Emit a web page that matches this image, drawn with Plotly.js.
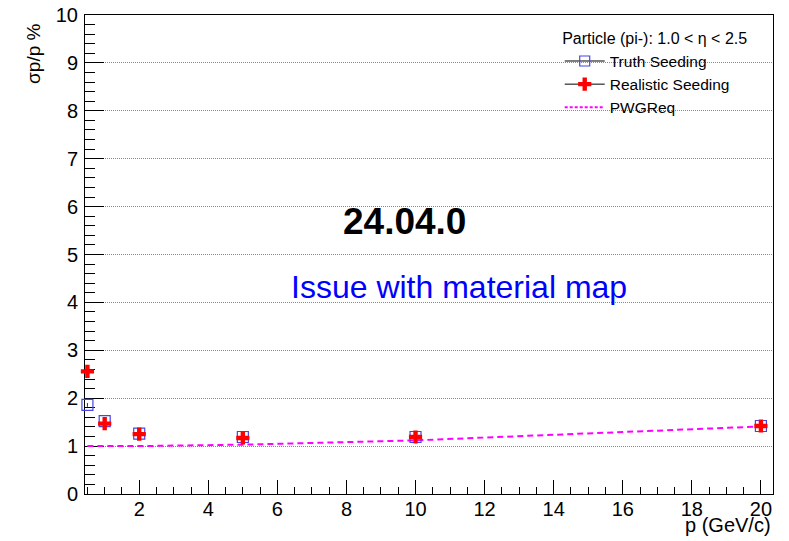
<!DOCTYPE html>
<html>
<head>
<meta charset="utf-8">
<script src="https://cdn.plot.ly/plotly-3.0.1.min.js"></script>
<style>
  html, body { margin: 0; padding: 0; background: #fff; }
  #chart { width: 789px; height: 541px; }
</style>
</head>
<body>
<div id="chart"></div>
<script>
// Momentum points (GeV/c)
const momentum = [0.5, 1, 2, 5, 10, 20];

// Relative momentum resolution sigma_p/p in percent
const truthSeeding = [1.86, 1.52, 1.26, 1.19, 1.19, 1.42];
const truthErr = [0.04, 0.03, 0.02, 0.02, 0.02, 0.02];
const realisticSeeding = [2.56, 1.47, 1.25, 1.17, 1.19, 1.42];
const realisticErr = [0.04, 0.03, 0.02, 0.02, 0.02, 0.02];

// Physics working group requirement
const pwgReq = [1.0, 1.0, 1.0, 1.03, 1.12, 1.41];

const FONT = 'Liberation Sans, Arial, Helvetica, sans-serif';

const traces = [
  {
    x: momentum, y: pwgReq, type: 'scatter', mode: 'lines',
    line: { color: '#ff00ff', width: 2, dash: '6px,4px' },
    showlegend: false, hoverinfo: 'skip'
  },
  {
    x: momentum, y: truthSeeding, type: 'scatter', mode: 'markers', cliponaxis: false,
    marker: { symbol: 'square-open', size: 11, color: 'rgb(70,70,230)', line: { width: 1.2 } },
    error_y: { type: 'data', array: truthErr, visible: true, color: '#333', thickness: 1, width: 0 },
    showlegend: false
  },
  {
    x: momentum, y: realisticSeeding, type: 'scatter', mode: 'markers', cliponaxis: false,
    marker: { symbol: 'cross', size: 11, color: '#ff0000', line: { width: 0 } },
    error_y: { type: 'data', array: realisticErr, visible: true, color: '#333', thickness: 1, width: 0 },
    showlegend: false
  },
  // legend entries
  {
    x: [null], y: [null], type: 'scatter', mode: 'lines+markers', name: 'Truth Seeding',
    line: { color: '#000', width: 1 },
    marker: { symbol: 'square-open', size: 10, color: 'rgb(70,70,230)', line: { width: 1.2 } }
  },
  {
    x: [null], y: [null], type: 'scatter', mode: 'lines+markers', name: 'Realistic Seeding',
    line: { color: '#000', width: 1 },
    marker: { symbol: 'cross', size: 11, color: '#ff0000', line: { width: 0 } }
  },
  {
    x: [null], y: [null], type: 'scatter', mode: 'lines', name: 'PWGReq',
    line: { color: '#ff00ff', width: 2, dash: '3px,2px' }
  }
];

const layout = {
  width: 789, height: 541,
  margin: { l: 85, r: 16, t: 15, b: 47 },
  paper_bgcolor: '#fff', plot_bgcolor: '#fff',
  font: { family: FONT, size: 20, color: '#000' },
  showlegend: true,
  legend: {
    x: 0.69, y: 0.982, xanchor: 'left', yanchor: 'top',
    bgcolor: 'rgba(0,0,0,0)', borderwidth: 0,
    font: { family: FONT, size: 15.5, color: '#000' },
    title: { text: 'Particle (pi-): 1.0 < η < 2.5', side: 'top center', font: { family: FONT, size: 16 } },
    itemwidth: 40, tracegroupgap: 0
  },
  xaxis: {
    range: [0.43, 20.35],
    tick0: 0, dtick: 2,
    ticks: 'inside', ticklen: 14, tickwidth: 1, tickcolor: '#000',
    minor: { dtick: 0.5, ticks: 'inside', ticklen: 7, tickwidth: 1, tickcolor: '#000', showgrid: false },
    showgrid: false, zeroline: false,
    showline: true, linecolor: '#000', linewidth: 1, mirror: true,
    layer: 'below traces',
    tickfont: { family: FONT, size: 20 },
    ticklabelstandoff: -3
  },
  yaxis: {
    range: [0, 10],
    tick0: 0, dtick: 1,
    ticks: 'inside', ticklen: 19, tickwidth: 1, tickcolor: '#000',
    minor: { dtick: 0.2, ticks: 'inside', ticklen: 10, tickwidth: 1, tickcolor: '#000', showgrid: false },
    showgrid: true, gridcolor: '#8a8a8a', gridwidth: 1, griddash: '1px,1px',
    zeroline: false,
    showline: true, linecolor: '#000', linewidth: 1, mirror: true,
    layer: 'below traces',
    tickfont: { family: FONT, size: 20 },
    ticklabelstandoff: 2
  },
  shapes: [
    // white legend pad hiding the grid behind the entries
    {
      type: 'rect', xref: 'paper', yref: 'paper', layer: 'between',
      x0: 0.727, x1: 0.942, y0: 0.77, y1: 0.93,
      fillcolor: '#fff', line: { width: 0 }
    }
  ],
  annotations: [
    {
      text: 'σp/p %', textangle: -90, xref: 'paper', yref: 'paper',
      x: -0.076, y: 0.985, xanchor: 'center', yanchor: 'top',
      showarrow: false, font: { family: FONT, size: 19 }
    },
    {
      text: 'p (GeV/c)', xref: 'paper', yref: 'paper',
      x: 1.0, y: -0.064, xanchor: 'right', yanchor: 'middle',
      showarrow: false, font: { family: FONT, size: 20 }
    },
    {
      text: '<b>24.04.0</b>', xref: 'paper', yref: 'paper',
      x: 0.464, y: 0.568, xanchor: 'center', yanchor: 'middle',
      showarrow: false, font: { family: FONT, size: 37, color: '#000' }
    },
    {
      text: 'Issue with material map', xref: 'paper', yref: 'paper',
      x: 0.544, y: 0.432, xanchor: 'center', yanchor: 'middle',
      showarrow: false, font: { family: FONT, size: 32, color: '#0000ff' }
    }
  ]
};

Plotly.newPlot('chart', traces, layout, { displayModeBar: false, staticPlot: true });
</script>
</body>
</html>
